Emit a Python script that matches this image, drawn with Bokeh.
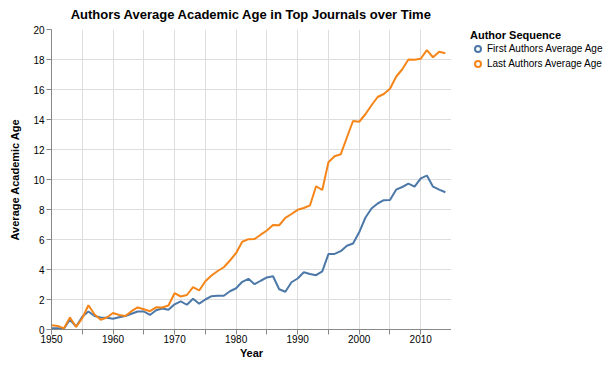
from bokeh.plotting import figure
from bokeh.layouts import row
from bokeh.models import ColumnDataSource, Range1d, FixedTicker, Legend, LegendItem, Spacer
from bokeh.embed import file_html
from bokeh.resources import INLINE

years = list(range(1950, 2015))
first_authors = [0.08, 0.08, 0.05, 0.65, 0.20, 0.85, 1.20, 0.90, 0.80, 0.78,
                 0.72, 0.82, 0.90, 1.05, 1.20, 1.20, 0.97, 1.28, 1.40, 1.32,
                 1.68, 1.88, 1.65, 2.05, 1.72, 2.00, 2.22, 2.25, 2.25, 2.55,
                 2.75, 3.18, 3.38, 3.02, 3.25, 3.47, 3.55, 2.68, 2.52, 3.15,
                 3.40, 3.82, 3.70, 3.62, 3.88, 5.03, 5.04, 5.22, 5.58, 5.73,
                 6.48, 7.45, 8.07, 8.40, 8.62, 8.64, 9.32, 9.50, 9.72, 9.52,
                 10.08, 10.26, 9.52, 9.32, 9.15]
last_authors = [0.28, 0.24, 0.07, 0.80, 0.17, 0.75, 1.62, 1.00, 0.65, 0.80,
                1.10, 0.97, 0.90, 1.22, 1.47, 1.35, 1.22, 1.48, 1.47, 1.60,
                2.42, 2.20, 2.30, 2.83, 2.60, 3.22, 3.60, 3.90, 4.15, 4.60,
                5.10, 5.85, 6.02, 6.03, 6.32, 6.60, 6.96, 6.95, 7.44, 7.70,
                7.98, 8.10, 8.27, 9.55, 9.30, 11.15, 11.55, 11.68, 12.80, 13.90,
                13.85, 14.35, 14.95, 15.50, 15.70, 16.05, 16.85, 17.35, 18.00, 17.98,
                18.05, 18.62, 18.15, 18.52, 18.42]
series_names = ["First Authors Average Age", "Last Authors Average Age"]
series_colors = ["#4c78a8", "#f58518"]
legend_title = "Author Sequence"
x_ticks = list(range(1950, 2016, 5))
y_ticks = list(range(0, 21, 2))

FONT = "Liberation Sans"

src = ColumnDataSource(dict(year=years, first=first_authors, last=last_authors))

p = figure(frame_width=400, frame_height=300, output_backend="svg", toolbar_location=None,
           x_range=Range1d(1950, 2015), y_range=Range1d(0, 20), min_border=0,
           title="Authors Average Academic Age in Top Journals over Time")
p.outline_line_color = None
p.background_fill_color = "white"
p.border_fill_color = "white"

p.title.align = "center"
p.title.vertical_align = "top"
p.title.text_font = FONT
p.title.text_font_size = "13px"
p.title.text_font_style = "bold"
p.title.text_color = "#000"
p.title.standoff = 12

for ax in (p.xaxis[0], p.yaxis[0]):
    ax.axis_line_color = "#888"
    ax.major_tick_line_color = "#888"
    ax.minor_tick_line_color = None
    ax.major_tick_out = 5
    ax.major_tick_in = 0
    ax.major_label_text_font = FONT
    ax.major_label_text_font_size = "10px"
    ax.major_label_text_color = "#000"
    ax.axis_label_text_font = FONT
    ax.axis_label_text_font_size = "11px"
    ax.axis_label_text_font_style = "bold"
    ax.axis_label_text_color = "#000"

p.xaxis.axis_label = "Year"
p.xaxis.ticker = FixedTicker(ticks=x_ticks)
p.xaxis.major_label_overrides = {t: (str(t) if t % 10 == 0 and t < 2015 else "") for t in x_ticks}
p.xaxis.major_label_standoff = 0
p.xaxis.axis_label_standoff = 1

p.yaxis.axis_label = "Average Academic Age"
p.yaxis.ticker = FixedTicker(ticks=y_ticks)
p.yaxis.major_label_standoff = 2
p.yaxis.axis_label_standoff = 9

p.xgrid.ticker = FixedTicker(ticks=x_ticks)
p.ygrid.ticker = FixedTicker(ticks=y_ticks)
p.grid.grid_line_color = "#ddd"
p.grid.grid_line_width = 1

p.line("year", "first", source=src, line_color=series_colors[0], line_width=2)
p.line("year", "last", source=src, line_color=series_colors[1], line_width=2)

# legend panel: a bare figure to the right of the plot
lp = figure(width=140, height=345, output_backend="svg", toolbar_location=None,
            x_axis_type=None, y_axis_type=None, min_border=0,
            x_range=Range1d(1950, 2015), y_range=Range1d(0, 20))
lp.outline_line_color = None
lp.background_fill_color = "white"
lp.border_fill_color = "white"

# hidden circle markers of each series, used only as legend symbols
g1 = lp.scatter("year", "first", source=src, marker="circle", size=10, fill_alpha=0,
                line_color=series_colors[0], line_width=2, visible=False)
g2 = lp.scatter("year", "last", source=src, marker="circle", size=10, fill_alpha=0,
                line_color=series_colors[1], line_width=2, visible=False)

legend = Legend(items=[LegendItem(label=series_names[0], renderers=[g1]),
                       LegendItem(label=series_names[1], renderers=[g2])],
                location="top_left", title=legend_title,
                title_text_font=FONT, title_text_font_size="11px", title_text_font_style="bold",
                title_text_color="#000", title_standoff=0,
                label_text_font=FONT, label_text_font_size="10px", label_text_color="#000",
                glyph_width=15, glyph_height=15, label_height=15, spacing=0,
                label_standoff=2, padding=0, margin=0, border_line_color=None,
                background_fill_alpha=0)
lp.add_layout(legend)

layout = row(Spacer(width=6, height=10), p, Spacer(width=19, height=10), lp)
open("out.html", "w").write(file_html(layout, INLINE))
